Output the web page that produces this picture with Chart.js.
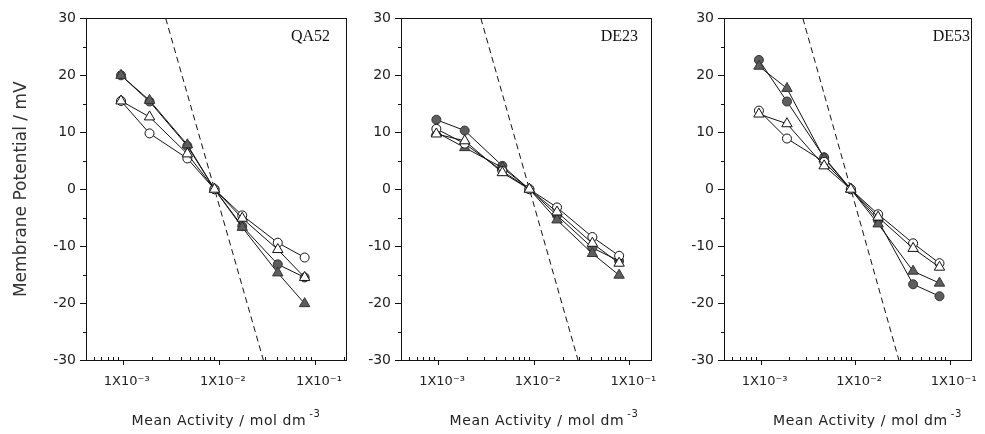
<!DOCTYPE html>
<html><head><meta charset="utf-8">
<script src="https://cdn.jsdelivr.net/npm/chart.js@4/dist/chart.umd.min.js"></script>
<style>
html,body{margin:0;padding:0;background:#fff;}
body{width:985px;height:434px;overflow:hidden;position:relative;}
canvas{position:absolute;top:0;}
</style></head>
<body>
<canvas id="c1"></canvas>
<canvas id="c2"></canvas>
<canvas id="c3"></canvas>
<script>
// ---- data ----
const activity = [0.00096, 0.0019, 0.0047, 0.009, 0.0175, 0.041, 0.078];
const qa52OpenCircle     = [15.5, 9.8, 5.4, 0, -4.6, -9.4, -12.0];
const qa52OpenTriangle   = [15.5, 12.7, 6.2, 0, -5.1, -10.6, -15.5];
const qa52FilledCircle   = [20.0, 15.4, 7.6, 0, -6.5, -13.2, -15.5];
const qa52FilledTriangle = [20.0, 15.6, 7.8, 0, -6.7, -14.7, -20.1];
const de23OpenCircle     = [10.6, 8.0, 3.2, 0, -3.2, -8.4, -11.7];
const de23OpenTriangle   = [9.7, 8.5, 2.9, 0, -4.0, -9.5, -13.0];
const de23FilledCircle   = [12.2, 10.3, 4.1, 0, -4.6, -10.3, -12.6];
const de23FilledTriangle = [10.0, 7.3, 3.8, 0, -5.4, -11.3, -15.1];
const de53OpenCircle     = [13.8, 8.9, 4.8, 0, -4.4, -9.5, -13.0];
const de53OpenTriangle   = [13.2, 11.5, 4.1, 0, -4.9, -10.4, -13.7];
const de53FilledCircle   = [22.7, 15.4, 5.6, 0, -5.5, -16.7, -18.8];
const de53FilledTriangle = [21.6, 17.7, 5.4, 0, -6.1, -14.4, -16.5];
const idealActivity  = [0.0028, 0.029];
const idealPotential = [30, -30];
const panelNames = ['QA52', 'DE23', 'DE53'];
const xTickLabels = {'-3': '1X10⁻³', '-2': '1X10⁻²', '-1': '1X10⁻¹'};
const yAxisTitle = 'Membrane Potential / mV';
const xAxisTitle = 'Mean Activity / mol dm';
const xAxisTitleSup = '-3';

// ---- layout (not data) ----
const H = 434, PLOT_TOP = 13, PLOT_BOTTOM = 360;
const panels = [
  {id:'c1', left:0,   width:360, plotLeft:86,  plotRight:350, xMin:4.15e-4, xMax:0.21,  labelRight:330, titleShift:10,
   series:[qa52OpenCircle, qa52OpenTriangle, qa52FilledCircle, qa52FilledTriangle], yTitle:true},
  {id:'c2', left:360, width:305, plotLeft:401, plotRight:658, xMin:4.1e-4, xMax:0.168, labelRight:638, titleShift:18,
   series:[de23OpenCircle, de23OpenTriangle, de23FilledCircle, de23FilledTriangle], yTitle:false},
  {id:'c3', left:665, width:320, plotLeft:724, plotRight:979, xMin:4.1e-4, xMax:0.168, labelRight:970, titleShift:20,
   series:[de53OpenCircle, de53OpenTriangle, de53FilledCircle, de53FilledTriangle], yTitle:false}
];

const FONT = '"DejaVu Sans", sans-serif';
const FILL = '#5e5e5e';

function pts(xs, ys){ return xs.map((x,i)=>({x:x, y:ys[i]})); }

const decorPlugin = {
  id:'decor',
  afterDraw(chart, args, opts){
    const {ctx, chartArea:a, scales:{x, y}} = chart;
    ctx.save();
    ctx.strokeStyle = '#111';
    ctx.lineWidth = 1;
    // frame
    ctx.strokeRect(Math.round(a.left)+0.5, Math.round(a.top)+0.5, Math.round(a.right-a.left), Math.round(a.bottom-a.top));
    // x ticks
    ctx.beginPath();
    for (let e=-4; e<=0; e++){
      for (let m=1; m<=9; m++){
        const v = m*Math.pow(10,e);
        if (v < x.min || v > x.max) continue;
        const px = Math.round(x.getPixelForValue(v))+0.5;
        if (m===1){ ctx.moveTo(px, a.bottom); ctx.lineTo(px, a.bottom+5); }
        else { ctx.moveTo(px, a.bottom); ctx.lineTo(px, a.bottom-3); }
      }
    }
    // y ticks
    for (let v=-30; v<=30; v+=5){
      const py = Math.round(y.getPixelForValue(v))+0.5;
      const len = (v%10===0) ? 6 : 3;
      ctx.moveTo(a.left, py); ctx.lineTo(a.left-len, py);
    }
    ctx.stroke();
    // panel label
    ctx.fillStyle = '#111';
    ctx.font = '16px "Liberation Serif", serif';
    ctx.textAlign = 'right';
    ctx.textBaseline = 'middle';
    ctx.fillText(opts.name, opts.labelRight - opts.left, 37);
    // x axis title with superscript
    try { ctx.letterSpacing = '0.6px'; } catch(e) {}
    ctx.font = '14px ' + FONT;
    const w1 = ctx.measureText(xAxisTitle).width;
    ctx.font = '10px ' + FONT;
    const w2 = ctx.measureText(xAxisTitleSup).width;
    const cx = (a.left + a.right)/2 + opts.titleShift;
    const startX = cx - (w1 + 3 + w2)/2;
    ctx.textAlign = 'left';
    ctx.textBaseline = 'alphabetic';
    ctx.fillStyle = '#222';
    ctx.font = '14px ' + FONT;
    ctx.fillText(xAxisTitle, startX, 425);
    ctx.font = '10px ' + FONT;
    ctx.fillText(xAxisTitleSup, startX + w1 + 3, 417);
    ctx.restore();
  }
};

panels.forEach((p, idx) => {
  const cv = document.getElementById(p.id);
  cv.width = p.width; cv.height = H;
  cv.style.left = p.left + 'px';
  cv.style.width = p.width + 'px'; cv.style.height = H + 'px';
  const [oc, ot, fc, ft] = p.series;
  const base = {borderColor:'#111', borderWidth:1, pointBorderWidth:1, pointBorderColor:'#111', tension:0, fill:false};
  new Chart(cv.getContext('2d'), {
    type:'line',
    data:{ datasets:[
      Object.assign({label:'open triangle', data:pts(activity, ot), pointStyle:'triangle', pointRadius:6, pointBackgroundColor:'#fff', order:0}, base),
      Object.assign({label:'open circle', data:pts(activity, oc), pointStyle:'circle', pointRadius:4.5, pointBackgroundColor:'#fff', order:1}, base),
      Object.assign({label:'filled triangle', data:pts(activity, ft), pointStyle:'triangle', pointRadius:6, pointBackgroundColor:FILL, order:2}, base, {pointBorderColor:'#333'}),
      Object.assign({label:'filled circle', data:pts(activity, fc), pointStyle:'circle', pointRadius:4.5, pointBackgroundColor:FILL, order:3}, base, {pointBorderColor:'#333'}),
      {label:'ideal', data:pts(idealActivity, idealPotential), borderColor:'#111', borderWidth:1, borderDash:[6,4], pointRadius:0, order:4}
    ]},
    options:{
      responsive:false, animation:false,
      layout:{padding:{top:PLOT_TOP, right:p.width-(p.plotRight-p.left), left:0, bottom:0}},
      plugins:{legend:{display:false}, tooltip:{enabled:false}, decor:{name:panelNames[idx], labelRight:p.labelRight, left:p.left, titleShift:p.titleShift}},
      scales:{
        x:{type:'logarithmic', min:p.xMin, max:p.xMax,
           grid:{display:false, drawTicks:false},
           border:{display:false},
           afterFit:(s)=>{ s.height = H - PLOT_BOTTOM; },
           ticks:{autoSkip:false, maxRotation:0, minRotation:0, padding:14, labelOffset:4, color:'#222',
                  font:{family:FONT, size:13},
                  callback:(v)=>{ const l=Math.log10(v); const r=Math.round(l); return (Math.abs(l-r)<1e-6 && xTickLabels[String(r)]) ? xTickLabels[String(r)] : ''; }}},
        y:{min:-30, max:30,
           grid:{display:false, drawTicks:false},
           border:{display:false},
           afterFit:(s)=>{ s.width = p.plotLeft - p.left; },
           ticks:{stepSize:10, padding:10, color:'#222', font:{family:FONT, size:14}},
           title:{display:p.yTitle, text:yAxisTitle, color:'#333', font:{family:FONT, size:17}, padding:{top:11, bottom:0}}}
      }
    },
    plugins:[decorPlugin]
  });
});
</script>
</body></html>
